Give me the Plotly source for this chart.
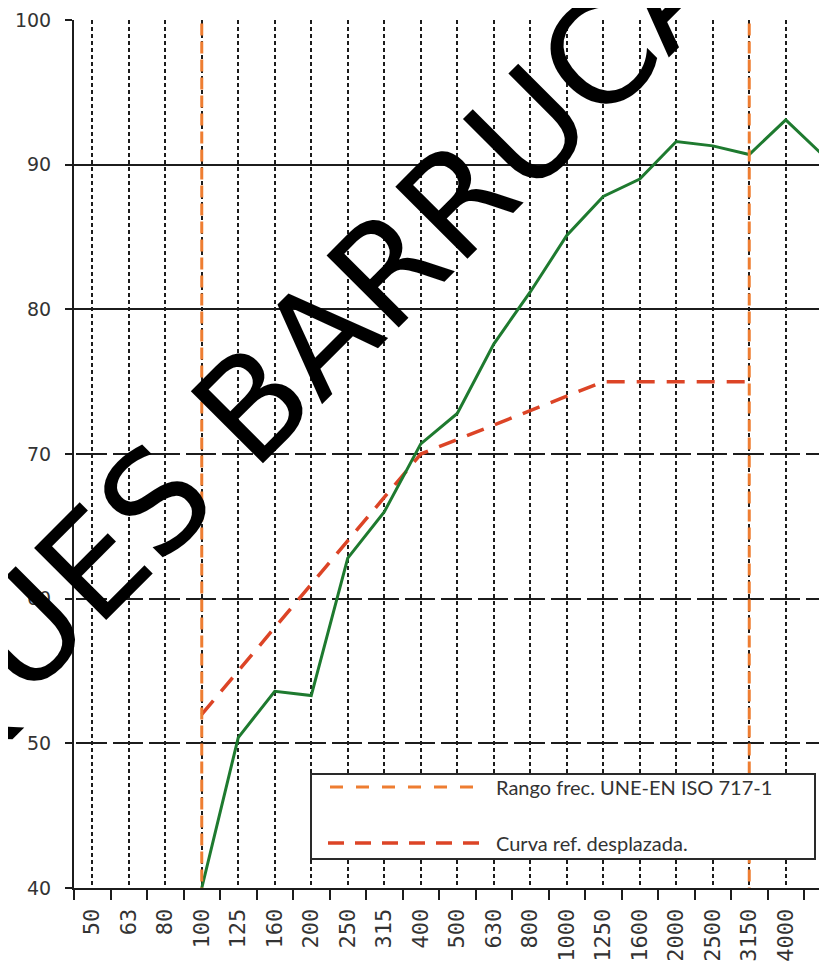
import plotly.graph_objects as go

# ---------------- data ----------------
freqs = ["50", "63", "80", "100", "125", "160", "200", "250", "315", "400", "500",
         "630", "800", "1000", "1250", "1600", "2000", "2500", "3150", "4000", "5000"]
measured_freqs = ["100", "125", "160", "200", "250", "315", "400", "500", "630", "800",
                  "1000", "1250", "1600", "2000", "2500", "3150", "4000", "5000"]
measured_vals = [40.0, 50.4, 53.6, 53.3, 62.8, 66.0, 70.7, 72.8, 77.6, 81.2,
                 85.1, 87.8, 89.0, 91.6, 91.3, 90.7, 93.1, 90.7]
ref_freqs = ["100", "125", "160", "200", "250", "315", "400", "500", "630", "800",
             "1000", "1250", "1600", "2000", "2500", "3150"]
ref_vals = [52, 55, 58, 61, 64, 67, 70, 71, 72, 73, 74, 75, 75, 75, 75, 75]
range_limits = ["100", "3150"]
y_ticks = [40, 50, 60, 70, 80, 90, 100]
solid_grid = [80, 90, 100]
legend_labels = ["Rango frec. UNE-EN ISO 717-1", "Curva ref. desplazada."]
watermark = "QUES BARRUCA"

idx = {f: i for i, f in enumerate(freqs)}

# page has an 8px body margin: figure starts at (8, 8)
OFF = 8
PAGE_W, PAGE_H = 827, 962
W, H = PAGE_W - OFF, PAGE_H - OFF
PL, PT, PB = 74, 20, 888          # plot area in page pixels
L, T, B, R = PL - OFF, PT - OFF, PAGE_H - PB, 0
pw, ph = W - L - R, H - T - B

def px(x):
    return (x - PL) / pw

def py(y):
    return 1 - (y - PT) / ph

GREEN = "#1E7A2F"
ORANGE = "#EE7D31"
RED = "#DC4426"
GRID = "#1c1c1c"
TXT = "#333333"

fig = go.Figure()

# frequency range vertical lines (on overlay axis y2)
for f in range_limits:
    fig.add_trace(go.Scatter(x=[idx[f], idx[f]], y=[y_ticks[0] - 0.8, y_ticks[-1]], mode="lines",
                             line=dict(color=ORANGE, width=3, dash="12px,6px"),
                             yaxis="y2", cliponaxis=False,
                             showlegend=False, hoverinfo="skip"))

# shifted reference curve
fig.add_trace(go.Scatter(x=[idx[f] for f in ref_freqs], y=ref_vals, mode="lines",
                         line=dict(color=RED, width=3.5, dash="18px,12px"),
                         showlegend=False))

# measured curve
fig.add_trace(go.Scatter(x=[idx[f] for f in measured_freqs], y=measured_vals, mode="lines",
                         line=dict(color=GREEN, width=3),
                         showlegend=False))

n = len(freqs)
fig.update_xaxes(
    range=[-0.5, -0.5 + pw / 36.5],
    tickmode="array", tickvals=list(range(n)), ticktext=freqs,
    tickangle=-90,
    tickfont=dict(family="DejaVu Sans Mono", size=22, color=TXT),
    ticks="outside", ticklen=10, tickcolor="rgba(0,0,0,0)",
    showgrid=True, gridcolor=GRID, gridwidth=2, griddash="4px,3px",
    showline=True, linecolor=GRID, linewidth=2,
    minor=dict(tickvals=[i - 0.5 for i in range(n + 1)], ticks="outside",
               ticklen=10, tickwidth=2, tickcolor=GRID, showgrid=False),
    zeroline=False,
)
fig.update_layout(
    yaxis=dict(
        range=[y_ticks[0], y_ticks[-1]],
        tickmode="array", tickvals=y_ticks,
        tickfont=dict(family="DejaVu Sans", size=19, color=TXT),
        ticks="outside", ticklen=7, tickwidth=2, tickcolor=GRID,
        ticklabelstandoff=10,
        showgrid=True, gridcolor=GRID, gridwidth=2, griddash="0px,2px,30.5px,4px",
        showline=True, linecolor=GRID, linewidth=2,
        zeroline=False,
    ),
    yaxis2=dict(
        overlaying="y", side="left",
        range=[y_ticks[0], y_ticks[-1]],
        tickmode="array", tickvals=solid_grid,
        showticklabels=False, ticks="",
        showgrid=True, gridcolor=GRID, gridwidth=2, griddash="solid",
        showline=False, zeroline=False,
    ),
)

shapes = [
    dict(type="rect", xref="paper", yref="paper",
         x0=px(311), x1=px(815), y0=py(859), y1=py(774),
         fillcolor="white", line=dict(color="#2a2a2a", width=2), layer="above"),
    dict(type="line", xref="paper", yref="paper",
         x0=px(330), x1=px(482), y0=py(787), y1=py(787),
         line=dict(color=ORANGE, width=3, dash="13px,13px"), layer="above"),
    dict(type="line", xref="paper", yref="paper",
         x0=px(328), x1=px(482), y0=py(843), y1=py(843),
         line=dict(color=RED, width=3.5, dash="16px,11px"), layer="above"),
]

annotations = [
    dict(xref="paper", yref="paper", x=px(494), y=py(787), text=legend_labels[0],
         showarrow=False, xanchor="left", yanchor="middle",
         font=dict(family="Lato", size=20, color=TXT)),
    dict(xref="paper", yref="paper", x=px(494), y=py(843), text=legend_labels[1],
         showarrow=False, xanchor="left", yanchor="middle",
         font=dict(family="Lato", size=20, color=TXT)),
    dict(xref="paper", yref="paper", x=px(306), y=py(351), text=watermark,
         showarrow=False, xanchor="center", yanchor="middle", textangle=-45,
         font=dict(family="DejaVu Sans", size=140, color="black")),
]

fig.update_layout(
    width=W, height=H,
    margin=dict(l=L, r=R, t=T, b=B, pad=0),
    plot_bgcolor="white", paper_bgcolor="white",
    shapes=shapes, annotations=annotations,
    showlegend=False,
)

fig.write_html("out.html")
